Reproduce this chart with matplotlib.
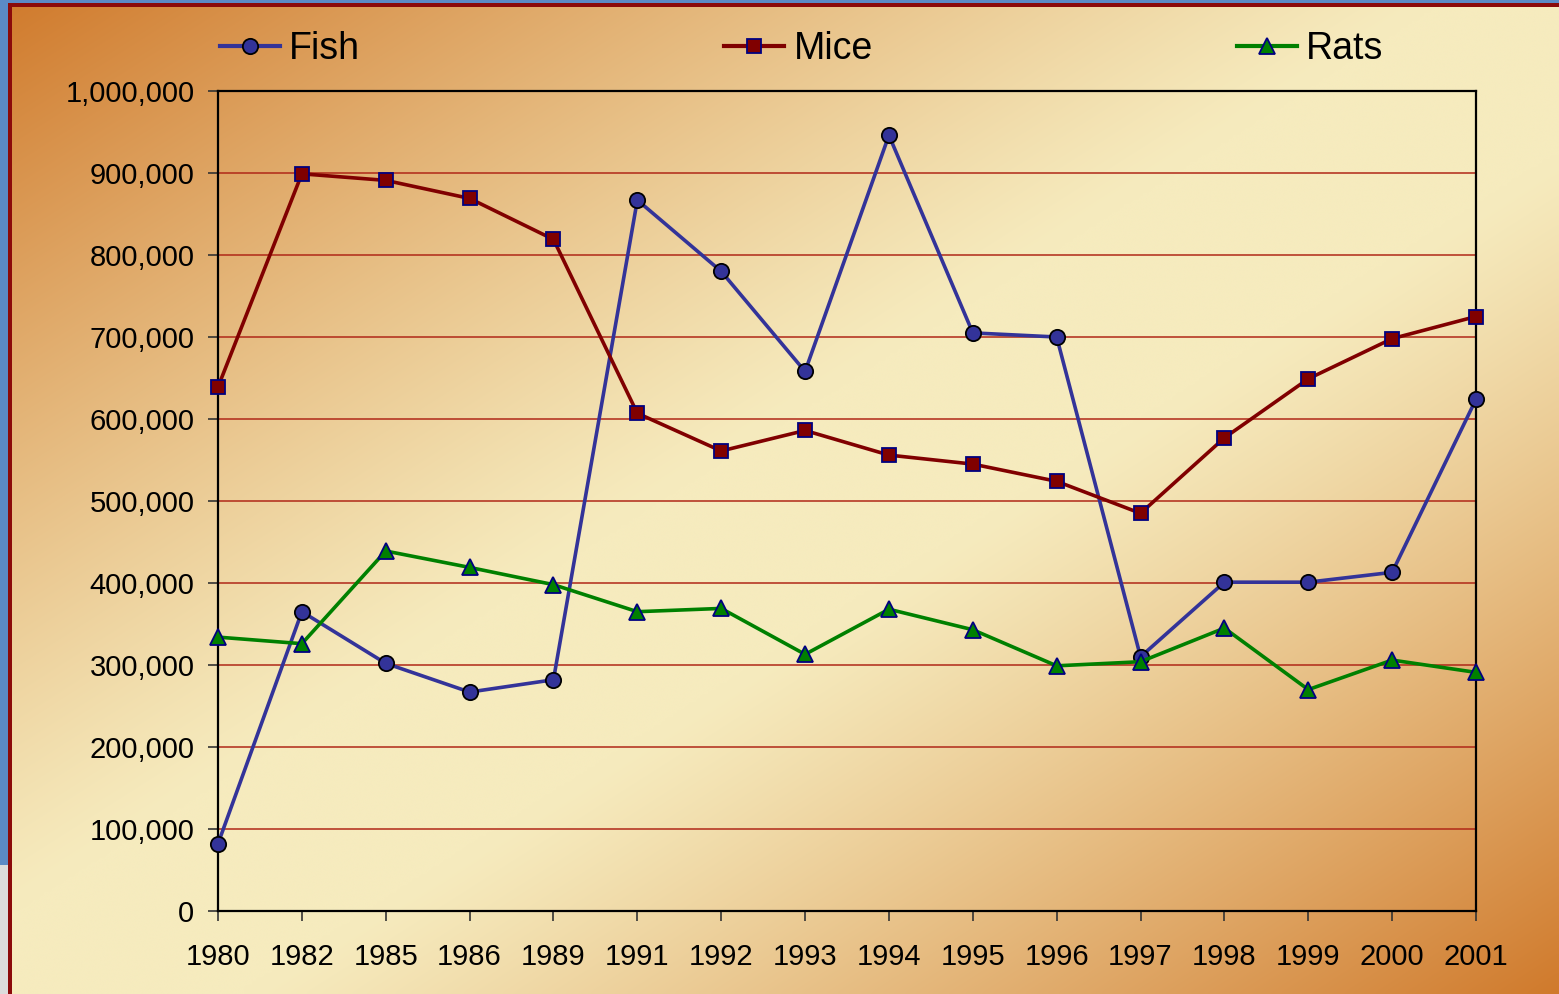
"""Fish, mice and rats counts 1980-2001, line chart on a gradient background"""
import numpy as np
import matplotlib
matplotlib.use('Agg')
import matplotlib.pyplot as plt
from matplotlib.patches import Rectangle
from matplotlib.lines import Line2D
from matplotlib.ticker import FuncFormatter

# data
years = ['1980', '1982', '1985', '1986', '1989', '1991', '1992', '1993',
         '1994', '1995', '1996', '1997', '1998', '1999', '2000', '2001']
fish = [82000, 365000, 302000, 267000, 282000, 867000, 780000, 658000,
        946000, 705000, 700000, 310000, 401000, 401000, 413000, 624000]
mice = [639000, 899000, 891000, 869000, 819000, 607000, 561000, 586000,
        556000, 545000, 524000, 485000, 577000, 649000, 698000, 725000]
rats = [334000, 326000, 439000, 419000, 398000, 365000, 369000, 313000,
        368000, 343000, 299000, 304000, 345000, 270000, 306000, 291000]

plt.rcParams['font.family'] = ['Liberation Sans', 'DejaVu Sans']

W, H = 1559, 994
fig = plt.figure(figsize=(W / 100, H / 100), dpi=100)

# 背景渐变：左上、右下为橙色，对角带为米色
orange = np.array([208, 122, 44]) / 255
cream = np.array([246, 235, 190]) / 255
u = np.linspace(0, 1, 400)[None, :]
v = np.linspace(0, 1, 260)[:, None]
t = (u + v) / 2
w = np.where(t < 0.46, 1 - t / 0.46, np.where(t > 0.58, (t - 0.58) / 0.42, 0.0))
w = np.clip(w, 0, 1)
w = w ** 1.15
img = cream[None, None, :] * (1 - w[..., None]) + orange[None, None, :] * w[..., None]
bg = fig.add_axes([0, 0, 1, 1], zorder=-5)
bg.imshow(img, aspect='auto', extent=[0, 1, 0, 1], interpolation='bicubic')
bg.set_xlim(0, 1)
bg.set_ylim(0, 1)
bg.axis('off')

# 边框：蓝色条和深红线
def px_rect(x, y, w_, h_, color):
    fig.patches.append(Rectangle((x / W, 1 - (y + h_) / H), w_ / W, h_ / H,
                                 transform=fig.transFigure, color=color,
                                 zorder=10, lw=0))

px_rect(0, 0, W, 3, '#5b8ac6')
px_rect(0, 0, 8, 865, '#5b8ac6')
px_rect(0, 865, 8, H - 865, '#dcdcdc')
px_rect(8, 3, W - 8, 4, '#8b0a0a')
px_rect(8, 3, 4, H - 3, '#8b0a0a')

ax = fig.add_axes([218 / W, 83 / H, 1258 / W, 820 / H])
ax.patch.set_alpha(0)

ax.plot(years, fish, color='#333399', lw=2.6, marker='o', ms=11,
        mfc='#333399', mec='black', mew=1.3, clip_on=False, zorder=3)
ax.plot(years, mice, color='#800000', lw=2.6, marker='s', ms=10,
        mfc='#800000', mec='#000080', mew=1.3, clip_on=False, zorder=3)
ax.plot(years, rats, color='#008000', lw=2.6, marker='^', ms=12,
        mfc='#008000', mec='#000080', mew=1.3, clip_on=False, zorder=3)

ax.set_xlim(0, len(years) - 1)
ax.set_ylim(0, 1000000)
ax.set_yticks(np.arange(0, 1000001, 100000))
ax.yaxis.set_major_formatter(FuncFormatter(lambda x, p: '{:,.0f}'.format(x)))

ax.set_axisbelow(True)
ax.yaxis.grid(True, color='#b02818', lw=1.1)
ax.xaxis.grid(False)

for s in ax.spines.values():
    s.set_color('black')
    s.set_linewidth(1.6)

ax.tick_params(axis='both', direction='out', length=7, width=1.2,
               color='#333333', labelsize=21, labelcolor='black')
ax.tick_params(axis='y', pad=10)
ax.tick_params(axis='x', pad=16)

# 图例
handles = [
    Line2D([], [], color='#333399', lw=3, marker='o', ms=11,
           mfc='#333399', mec='black', mew=1.3),
    Line2D([], [], color='#800000', lw=3, marker='s', ms=10,
           mfc='#800000', mec='#000080', mew=1.3),
    Line2D([], [], color='#008000', lw=3, marker='^', ms=12,
           mfc='#008000', mec='#000080', mew=1.3),
]
fig.legend(handles, ['Fish', 'Mice', 'Rats'], loc='center left',
           bbox_to_anchor=(220 / W, 1 - 49 / H), ncol=3, frameon=False,
           fontsize=27, handlelength=1.6, handletextpad=0.25,
           columnspacing=9.7, borderpad=0, borderaxespad=0)

plt.savefig('out.png', dpi=100)
